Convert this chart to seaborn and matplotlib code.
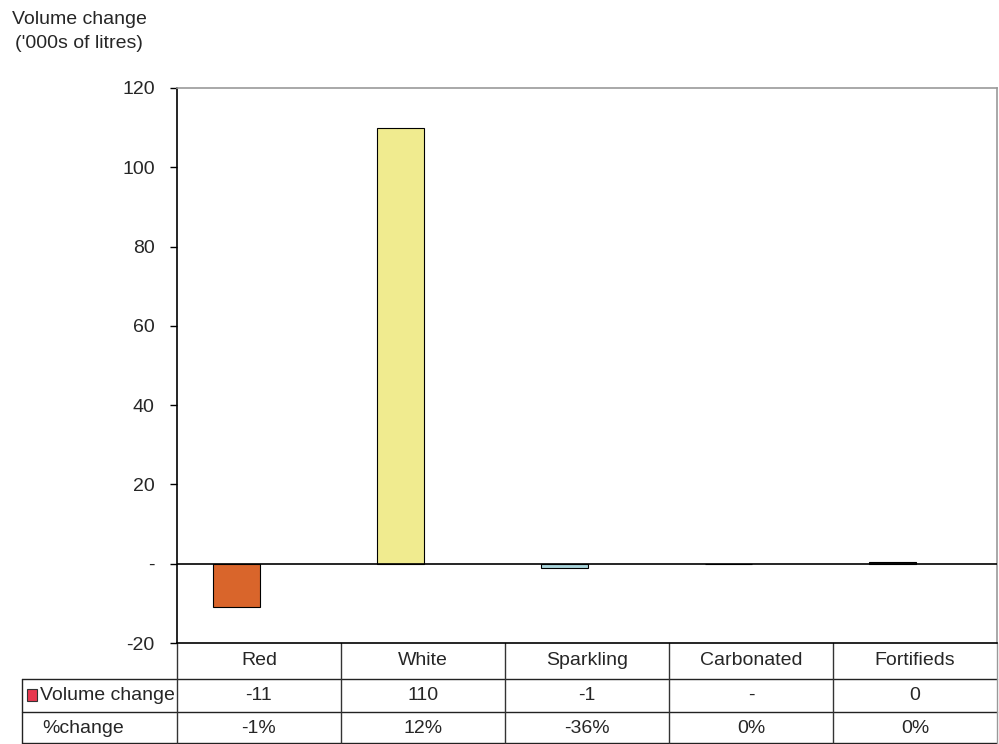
import numpy as np
import pandas as pd
import matplotlib
matplotlib.use("Agg")
import matplotlib.pyplot as plt
import matplotlib.patches as mpatches
import seaborn as sns

# ── Data ──────────────────────────────────────────────────────────────────────
CATEGORIES = ["Red", "White", "Sparkling", "Carbonated", "Fortifieds"]
VOLUME = [-11, 110, -1, 0, 0.4]
VOL_LABELS = ["-11", "110", "-1", "-", "0"]
PCT_LABELS = ["-1%", "12%", "-36%", "0%", "0%"]
BAR_COLORS = ["#D9652B", "#F0EB8F", "#A9D4DA", "#9999CC", "#333333"]
YTICKS = [-20, 0, 20, 40, 60, 80, 100, 120]
YTICK_LABELS = ["-20", "-", "20", "40", "60", "80", "100", "120"]

sns.set_style("white")
plt.rcParams["font.family"] = ["Liberation Sans", "DejaVu Sans"]
FS = 14

W, H = 999, 744
fig = plt.figure(figsize=(W / 100, H / 100), dpi=100)
ax = fig.add_axes([177 / W, (H - 643) / H, 820 / W, 555 / H])

df = pd.DataFrame({"category": CATEGORIES, "volume": VOLUME})
sns.barplot(data=df, x="category", y="volume", hue="category", palette=BAR_COLORS,
            saturation=1, width=0.287, edgecolor="black", linewidth=0.8,
            legend=False, ax=ax)
# bars sit left of centre (empty second series in the original)
for p in ax.patches:
    p.set_x(p.get_x() - 0.137)

ax.axhline(0, color="black", lw=1.2, zorder=3)
ax.set_xlim(-0.5, 4.5)
ax.set_ylim(-20, 120)
ax.set_yticks(YTICKS)
ax.set_yticklabels(YTICK_LABELS, fontsize=FS)
ax.tick_params(axis="y", direction="out", length=5, width=1, pad=11, left=True, color="black")
ax.tick_params(axis="x", bottom=False, labelbottom=False)
ax.set_xlabel("")
ax.set_ylabel("")
for s in ["left", "bottom"]:
    ax.spines[s].set_color("black")
    ax.spines[s].set_linewidth(1.2)
for s in ["top", "right"]:
    ax.spines[s].set_color("#999999")
    ax.spines[s].set_linewidth(1.2)

# ── Data table under the axis ─────────────────────────────────────────────────
tr = ax.get_xaxis_transform()
left = -0.5 - (177 - 22) / 164
y_line1, y_line2, y_bot = -0.0649, -0.1243, -0.1802
y_head, y_r2, y_r3 = -0.0324, -0.0946, -0.1532

kw = dict(transform=tr, clip_on=False, color="#222222", lw=1.0)
ax.plot([left, 4.5], [y_line1, y_line1], **kw)
ax.plot([left, 4.5], [y_line2, y_line2], **kw)
ax.plot([left, 4.5], [y_bot, y_bot], **kw)
ax.plot([left, left], [y_line1, y_bot], **kw)
for i in range(6):
    c = "#999999" if i == 5 else "#333333"
    ax.plot([i - 0.5, i - 0.5], [0, y_bot], transform=tr, clip_on=False, color=c, lw=1.0)

for i, cat in enumerate(CATEGORIES):
    ax.text(i, y_head, cat, transform=tr, ha="center", va="center", fontsize=FS)
    ax.text(i, y_r2, VOL_LABELS[i], transform=tr, ha="center", va="center", fontsize=FS)
    ax.text(i, y_r3, PCT_LABELS[i], transform=tr, ha="center", va="center", fontsize=FS)

ax.add_patch(mpatches.Rectangle((left + 5 / 164, -0.1045), 10 / 164, 12 / 555, transform=tr,
                                clip_on=False, facecolor="#E8384F", edgecolor="#333333", lw=0.8))
ax.text(-0.5 - (177 - 40) / 164, y_r2, "Volume change", transform=tr, ha="left", va="center", fontsize=FS)
ax.text(-0.5 - (177 - 42) / 164, y_r3, "%change", transform=tr, ha="left", va="center", fontsize=FS)

fig.text(79 / W, 1 - 11 / H, "Volume change\n('000s of litres)", ha="center", va="top",
         multialignment="center", fontsize=FS, linespacing=1.5)

fig.savefig("out.png", dpi=100)
